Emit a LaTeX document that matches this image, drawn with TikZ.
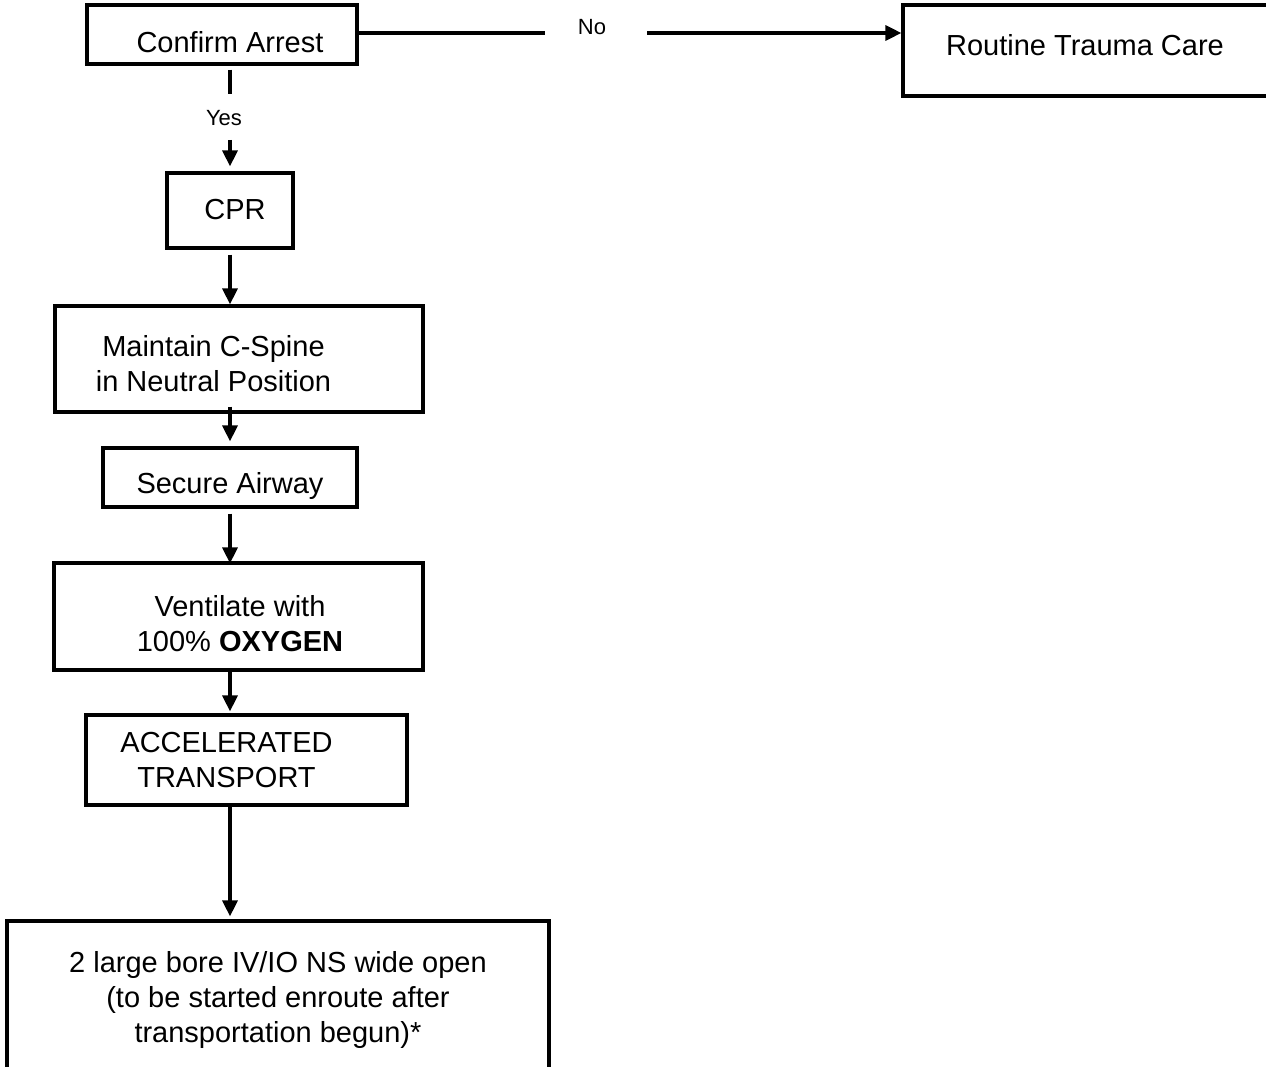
\documentclass[tikz,border=0pt]{standalone}
\usepackage{fontspec}
\setmainfont{Liberation Sans}
\usetikzlibrary{arrows.meta,calc}

\begin{document}
\begin{tikzpicture}[x=1pt,y=-1pt,
  box/.style={draw,line width=3.2pt,rectangle,inner sep=0pt},
  txt/.style={font=\fontsize{29}{35}\selectfont,align=center,anchor=base,inner sep=0pt},
  lbl/.style={font=\fontsize{22}{26}\selectfont,anchor=base,inner sep=0pt},
  flow/.style={line width=3.2pt},
  arr/.style={flow,-{Triangle[length=16pt,width=15pt]}}]
\fill[white] (0,0) rectangle (1266,1067);
\useasboundingbox (0,0) rectangle (1266,1067);

% boxes
\node[box,minimum width=270pt,minimum height=59pt] (confirm) at (222,34.5) {};
\node[box,minimum width=377pt,minimum height=91pt] (routine) at (1091.5,50.5) {};
\node[box,minimum width=126pt,minimum height=75pt] (cpr) at (230,210.5) {};
\node[box,minimum width=368pt,minimum height=106pt] (spine) at (239,359) {};
\node[box,minimum width=254pt,minimum height=59pt] (airway) at (230,477.5) {};
\node[box,minimum width=369pt,minimum height=107pt] (vent) at (238.5,616.5) {};
\node[box,minimum width=321pt,minimum height=90pt] (accel) at (246.5,760) {};
\node[box,minimum width=542pt,minimum height=169pt] (iv) at (278,1005.5) {};

% box texts (anchored on the baseline of the last line)
\node[txt] (confirmt) at (230,53) {Confirm Arrest};
\node[txt] (routinet) at (1085,56) {Routine Trauma Care};
\node[txt] (cprt) at (235,220) {CPR};
\node[txt] (spinet) at (213.5,391) {Maintain C-Spine\\in Neutral Position};
\node[txt] (airwayt) at (230,493) {Secure Airway};
\node[txt] (ventt) at (240,651) {Ventilate with\\100\% \textbf{OXYGEN}};
\node[txt] (accelt) at (226.5,787) {ACCELERATED\\TRANSPORT};
\node[txt] (ivt) at (278,1042) {2 large bore IV/IO NS wide open\\(to be started enroute after\\transportation begun)*};

% branch labels
\node[lbl] (no) at (592,35) {No};
\node[lbl] (yes) at (224,126) {Yes};
\coordinate (nol) at (545,33);
\coordinate (nor) at (647,33);
\coordinate (yest) at (230,94);
\coordinate (yesb) at (230,140);

% connectors
\draw[flow] (confirm.east |- nol) -- (nol);
\draw[arr] (nor) -- (nor -| routine.west);
\draw[flow] ($(confirm.south -| yest)+(0,4)$) -- (yest);
\draw[arr] (yesb) -- ($(cpr.north)+(0,-5)$);
\draw[arr] ($(cpr.south)+(0,5)$) -- (cpr.south |- spine.north);
\draw[arr] ($(spine.south -| cpr.south)+(0,-7)$) -- ($(airway.north)+(0,-5)$);
\draw[arr] ($(airway.south)+(0,5)$) -- ($(airway.south |- vent.north)+(0,2)$);
\draw[arr] (airway.south |- vent.south) -- ($(airway.south |- accel.north)+(0,-2)$);
\draw[arr] (airway.south |- accel.south) -- ($(airway.south |- iv.north)+(0,-3)$);
\end{tikzpicture}
\end{document}
